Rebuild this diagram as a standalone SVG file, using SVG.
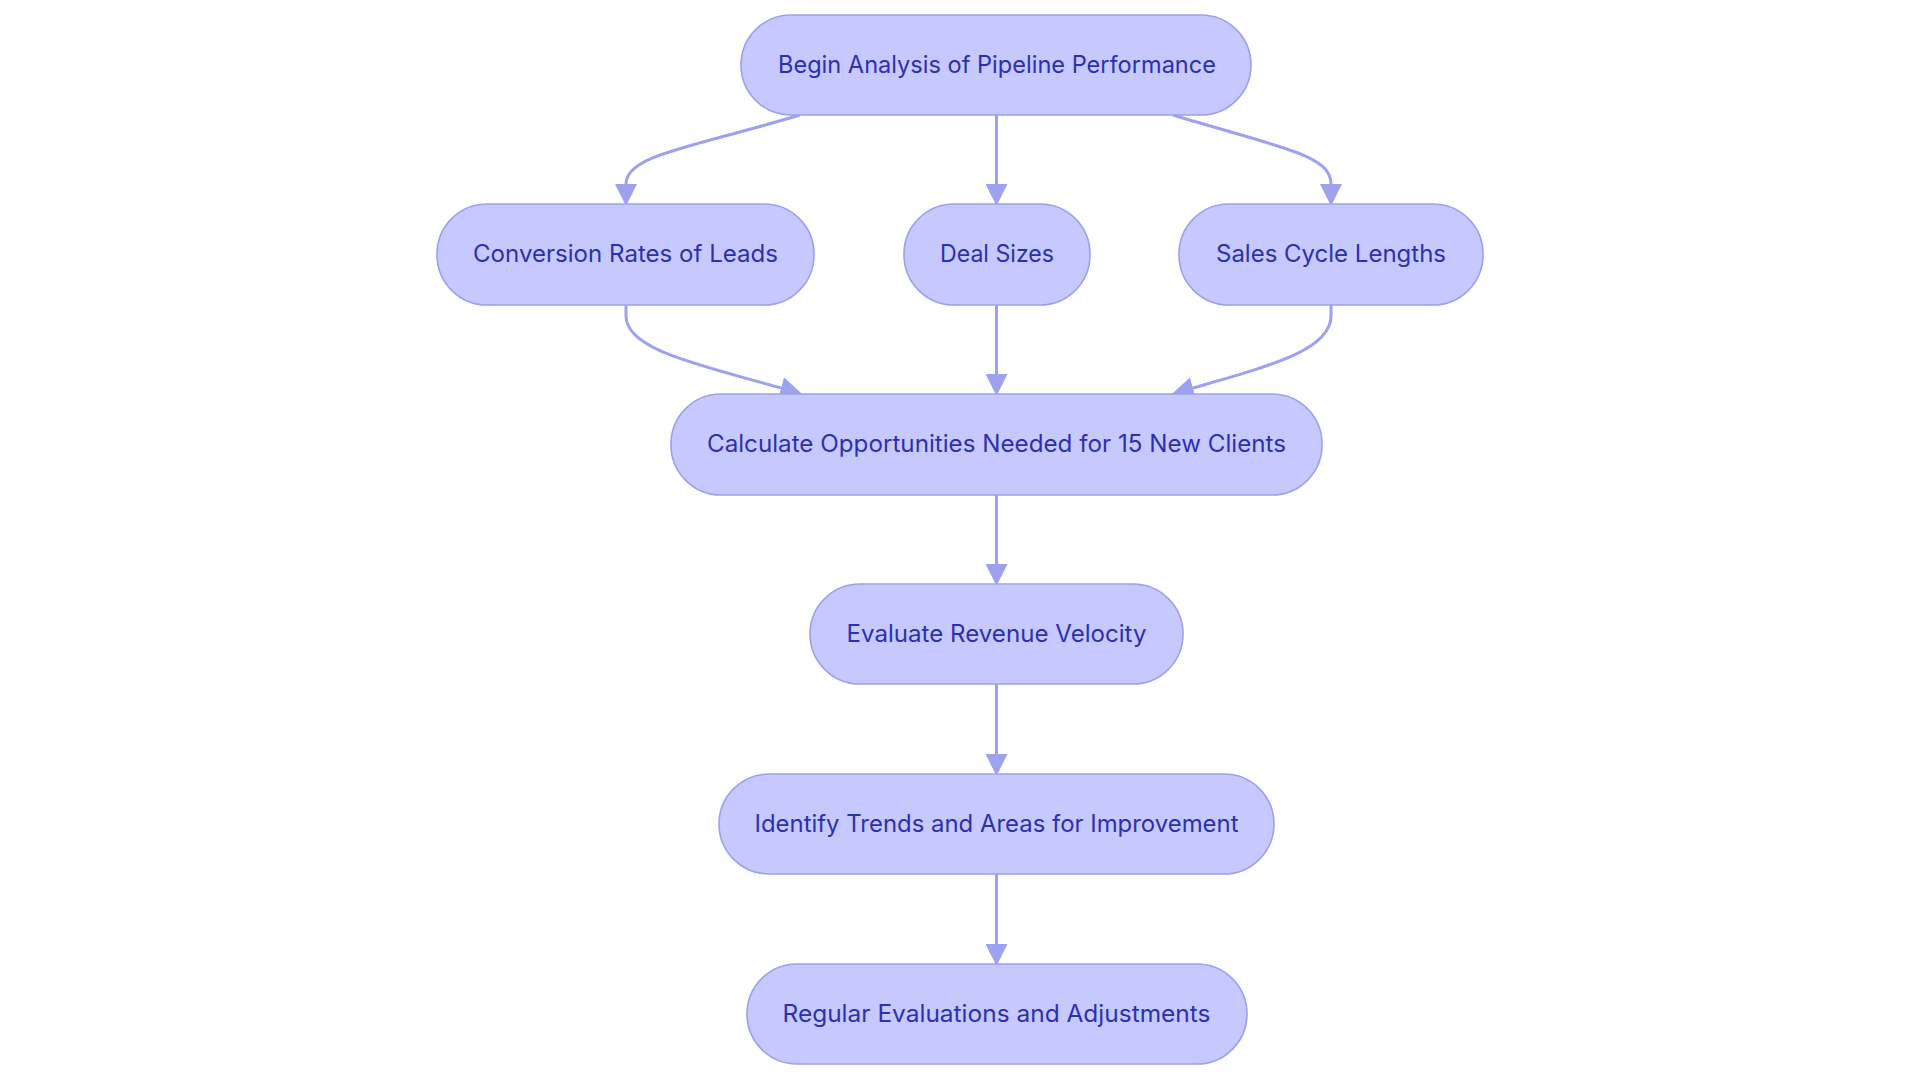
<svg xmlns="http://www.w3.org/2000/svg" width="1920" height="1083" viewBox="0 0 1920 1083">
<style>
.node rect{fill:#C6C9FE;stroke:#9CA1EA;stroke-width:1.6}
.node text{font-family:Inter,"Noto Sans","Liberation Sans",sans-serif;font-size:24px;fill:#2D30AE;text-anchor:middle}
.edge{fill:none;stroke:#9DA1EE;stroke-width:3}
</style>
<defs>
<marker id="arrow" markerUnits="userSpaceOnUse" markerWidth="22" markerHeight="22" refX="0" refY="10.5" orient="auto" viewBox="0 0 21 21">
<path d="M0,0 L21,10.5 L0,21 z" fill="#9DA1EE"/>
</marker>
</defs>
<rect width="1920" height="1083" fill="#ffffff"/>
<g id="connectors">
<path class="edge" d="M800,115 C690,148 626,155 626,184" marker-end="url(#arrow)"/>
<path class="edge" d="M996.5,115 L996.5,184" marker-end="url(#arrow)"/>
<path class="edge" d="M1173,115 C1282,148 1331,155 1331,184" marker-end="url(#arrow)"/>
<path class="edge" d="M626,305 L626,316 C626,350 700,365 781,388" marker-end="url(#arrow)"/>
<path class="edge" d="M996.5,305 L996.5,374" marker-end="url(#arrow)"/>
<path class="edge" d="M1331,305 L1331,316 C1331,350 1270,366 1193,388" marker-end="url(#arrow)"/>
<path class="edge" d="M996.5,495 L996.5,564" marker-end="url(#arrow)"/>
<path class="edge" d="M996.5,684 L996.5,754" marker-end="url(#arrow)"/>
<path class="edge" d="M996.5,874 L996.5,944" marker-end="url(#arrow)"/>
</g>
<g id="node-begin" class="node">
<rect x="741" y="15" width="510" height="100" rx="50" ry="50"/>
<text x="997" y="73" textLength="438" lengthAdjust="spacingAndGlyphs">Begin Analysis of Pipeline Performance</text>
</g>
<g id="node-conversion" class="node">
<rect x="437" y="204" width="377" height="101" rx="50" ry="50"/>
<text x="625.5" y="262" textLength="305" lengthAdjust="spacingAndGlyphs">Conversion Rates of Leads</text>
</g>
<g id="node-deal" class="node">
<rect x="904" y="204" width="186" height="101" rx="50" ry="50"/>
<text x="997" y="262" textLength="114" lengthAdjust="spacingAndGlyphs">Deal Sizes</text>
</g>
<g id="node-sales" class="node">
<rect x="1179" y="204" width="304" height="101" rx="50" ry="50"/>
<text x="1331" y="262" textLength="230" lengthAdjust="spacingAndGlyphs">Sales Cycle Lengths</text>
</g>
<g id="node-calculate" class="node">
<rect x="671" y="394" width="651" height="101" rx="50" ry="50"/>
<text x="996.5" y="452" textLength="579" lengthAdjust="spacingAndGlyphs">Calculate Opportunities Needed for 15 New Clients</text>
</g>
<g id="node-evaluate" class="node">
<rect x="810" y="584" width="373" height="100" rx="50" ry="50"/>
<text x="996.5" y="642" textLength="300" lengthAdjust="spacingAndGlyphs">Evaluate Revenue Velocity</text>
</g>
<g id="node-identify" class="node">
<rect x="719" y="774" width="555" height="100" rx="50" ry="50"/>
<text x="996.5" y="832" textLength="484" lengthAdjust="spacingAndGlyphs">Identify Trends and Areas for Improvement</text>
</g>
<g id="node-regular" class="node">
<rect x="747" y="964" width="500" height="100" rx="50" ry="50"/>
<text x="996.5" y="1022" textLength="428" lengthAdjust="spacingAndGlyphs">Regular Evaluations and Adjustments</text>
</g>
</svg>
